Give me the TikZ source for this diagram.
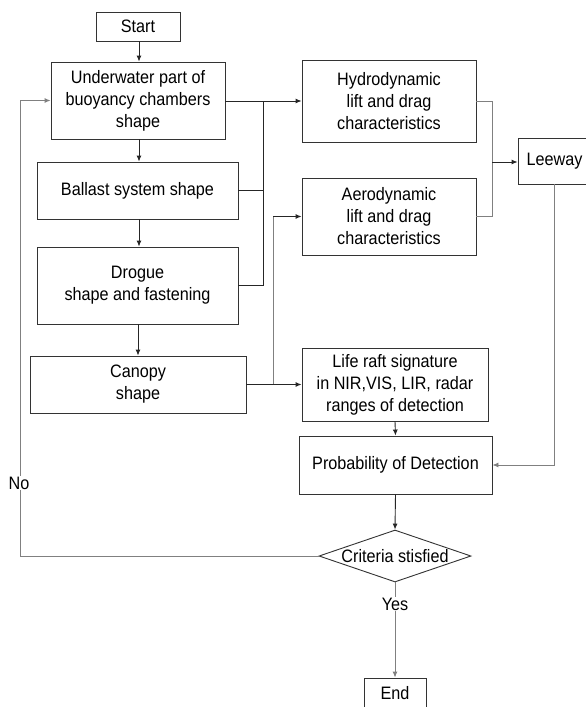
\documentclass[tikz,border=0pt]{standalone}
\usepackage{fontspec}
\setmainfont{Liberation Sans}[FakeStretch=0.9]
\usetikzlibrary{arrows.meta,shapes.geometric}
\begin{document}
\begin{tikzpicture}[x=1pt,y=-1pt,
  box/.style={draw=black!80, line width=0.9pt, fill=white, inner sep=0pt, align=center,
    font=\fontsize{18}{22}\selectfont},
  dec/.style={draw=black!80, line width=0.9pt, shape=diamond, inner sep=0pt, aspect=2.92,
    minimum width=152pt, minimum height=52pt, font=\fontsize{18}{22}\selectfont},
  dk/.style={draw=black!85, line width=0.9pt},
  lt/.style={draw=black!50, line width=0.9pt},
  tip/.style={-{Latex[length=6pt,width=5pt]}},
  lbl/.style={fill=white, inner sep=1pt, font=\fontsize{18}{22}\selectfont}
]
\useasboundingbox (0,0) rectangle (586,707);
\clip (0,0) rectangle (586,707);
\fill[white] (0,0) rectangle (586,707);

% nodes (centre, width, height)
\node[box, minimum width=84pt, minimum height=29pt] (start) at (138,26.5) {Start};
\node[box, minimum width=174pt, minimum height=77pt] (uw) at (138,100.5) {Underwater part of\\buoyancy chambers\\shape};
\node[box, minimum width=201pt, minimum height=57pt] (bal) at (137.5,190.5) {Ballast system shape};
\node[box, minimum width=201pt, minimum height=77pt] (dro) at (137.5,285.5) {Drogue\\shape and fastening};
\node[box, minimum width=216pt, minimum height=57pt] (can) at (138,384.5) {Canopy\\shape};
\node[box, minimum width=174pt, minimum height=82pt] (hyd) at (389,101) {Hydrodynamic\\lift and drag\\characteristics};
\node[box, minimum width=174pt, minimum height=77pt] (aer) at (389,216.5) {Aerodynamic\\lift and drag\\characteristics};
\node[box, minimum width=73pt, minimum height=46pt] (lee) at (554.5,161) {Leeway};
\node[box, minimum width=186pt, minimum height=73pt] (sig) at (395,384.5) {Life raft signature\\in NIR,VIS, LIR, radar\\ranges of detection};
\node[box, minimum width=193pt, minimum height=58pt] (pod) at (395.5,465) {Probability of Detection};
\node[dec] (crit) at (395,556) {Criteria stisfied};
\node[box, minimum width=62pt, minimum height=31pt] (end) at (395,693.5) {End};

% junction coordinates
\coordinate (j1) at (263,101);
\coordinate (j2) at (273,384);
\coordinate (j3) at (492,162);
\coordinate (lp) at (20,556);

% vertical chain
\draw[dk,tip] (start.south -| 139,0) -- (uw.north -| 139,0);
\draw[dk,tip] (uw.south -| 139,0) -- (bal.north -| 139,0);
\draw[dk,tip] (bal.south -| 139,0) -- (dro.north -| 139,0);
\draw[dk,tip] (dro.south -| 138,0) -- (can.north -| 138,0);

% to hydrodynamic
\draw[dk,tip] (uw.east |- j1) -- (hyd.west |- j1);
\draw[dk] (bal.east) -| (j1);
\draw[dk] (dro.east) -| (j1);

% canopy to signature and aerodynamic
\draw[dk,tip] (can.east) -- (sig.west |- can.east);
\draw[lt] (j2) -- (j2 |- aer.west);
\draw[dk,tip] (j2 |- aer.west) -- (aer.west);

% to leeway
\draw[lt] (hyd.east) -| (j3);
\draw[lt] (aer.east) -| (j3);
\draw[dk,tip] (j3) -- (lee.west |- j3);
\draw[lt,tip] (lee.south) |- (pod.east);

% detection
\draw[dk,tip] (sig.south) -- (pod.north);
\draw[dk,tip] (pod.south) -- (crit.north);

% no loop
\draw[lt] (crit.west) -- (lp);
\draw[lt,tip] (lp) -- (lp |- uw.west) -- (uw.west);
\node[lbl] (no) at (19,483) {No};

% yes
\draw[lt,tip] (crit.south) -- (end.north);
\node[lbl] (yes) at (395,604) {Yes};
\end{tikzpicture}
\end{document}
